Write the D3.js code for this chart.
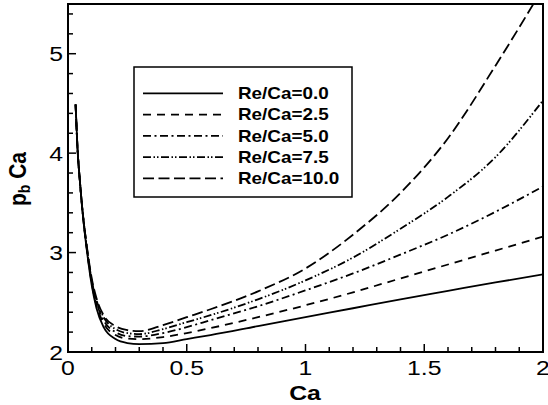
<!DOCTYPE html>
<html><head><meta charset="utf-8">
<script src="https://cdn.jsdelivr.net/npm/d3@7"></script>
<style>body{margin:0;background:#fff}svg{display:block}text{font-family:"Liberation Sans",Arial,sans-serif;fill:#000}</style>
</head><body><svg id="c" width="548" height="405"></svg>
<script>
const caValues = [0.032,0.04,0.05,0.06,0.08,0.1,0.12,0.15,0.2,0.25,0.3,0.4,0.5,0.6,0.8,1.0,1.2,1.4,1.6,1.8,2.0];
const seriesNames = ["Re/Ca=0.0","Re/Ca=2.5","Re/Ca=5.0","Re/Ca=7.5","Re/Ca=10.0"];
const re00 = [4.49,4.05,3.72,3.44,3.01,2.67,2.44,2.25,2.13,2.09,2.08,2.09,2.13,2.17,2.26,2.35,2.44,2.53,2.615,2.70,2.78];
const re25 = [4.49,4.05,3.72,3.44,3.02,2.69,2.47,2.29,2.17,2.135,2.13,2.15,2.19,2.24,2.35,2.47,2.60,2.74,2.88,3.02,3.16];
const re50 = [4.49,4.05,3.72,3.45,3.03,2.71,2.50,2.32,2.20,2.16,2.155,2.19,2.25,2.32,2.46,2.62,2.79,2.98,3.18,3.41,3.665];
const re75 = [4.49,4.05,3.72,3.45,3.04,2.72,2.52,2.35,2.23,2.19,2.18,2.23,2.30,2.37,2.53,2.72,2.95,3.24,3.56,3.96,4.53];
const re100 = [4.49,4.05,3.72,3.45,3.05,2.74,2.54,2.37,2.26,2.22,2.21,2.27,2.35,2.43,2.61,2.84,3.18,3.60,4.15,4.88,5.66];
const xTickLabels = ["0","0.5","1","1.5","2"];
const yTickLabels = ["2","3","4","5"];

const allSeries = [re00,re25,re50,re75,re100];
const dashes = [null,"8,6","8,3.5,2,3.5","8,2.5,1.5,2,1.5,2.5","11,4.5"];

const svg = d3.select("#c");
const L=68, R=543, T=4, B=352;
const x = d3.scaleLinear().domain([0,2]).range([L,R]);
const y = d3.scaleLinear().domain([2,5.5]).range([B,T]);

svg.append("clipPath").attr("id","clip").append("rect")
  .attr("x",L).attr("y",T).attr("width",R-L).attr("height",B-T);

const line = d3.line().x((d,i)=>x(caValues[i])).y(d=>y(d)).curve(d3.curveMonotoneX);
const g = svg.append("g").attr("clip-path","url(#clip)");
allSeries.forEach((s,k)=>{
  g.append("path").attr("d",line(s)).attr("fill","none").attr("stroke","#000")
   .attr("stroke-width",1.8).attr("stroke-dasharray",dashes[k]);
});

// ticks (inward, left and bottom only)
const xMinor = d3.range(0,2.0001,0.1);
svg.append("g").selectAll("line").data(xMinor).join("line")
  .attr("x1",d=>x(d)).attr("x2",d=>x(d)).attr("y1",B)
  .attr("y2",(d,i)=> i%5===0 ? B-8 : B-5).attr("stroke","#000").attr("stroke-width",1.5);
const yMinor = d3.range(2,5.5001,0.2);
svg.append("g").selectAll("line").data(yMinor).join("line")
  .attr("y1",d=>y(d)).attr("y2",d=>y(d)).attr("x1",L)
  .attr("x2",(d,i)=> i%5===0 ? L+8 : L+5).attr("stroke","#000").attr("stroke-width",1.5);

// frame
svg.append("rect").attr("x",L).attr("y",T).attr("width",R-L).attr("height",B-T)
  .attr("fill","none").attr("stroke","#000").attr("stroke-width",2);

// tick labels
svg.append("g").selectAll("text").data(xTickLabels).join("text")
  .attr("transform",d=>`translate(${x(+d)},375) scale(1.18,1)`)
  .attr("text-anchor","middle").attr("font-size",21).text(d=>d);
svg.append("g").selectAll("text").data(yTickLabels).join("text")
  .attr("transform",d=>`translate(63,${y(+d)+7.5}) scale(1.18,1)`)
  .attr("text-anchor","end").attr("font-size",21).text(d=>d);

// axis titles
svg.append("text").attr("transform","translate(305,400) scale(1.18,1)")
  .attr("text-anchor","middle").attr("font-size",21).attr("font-weight","bold").text("Ca");
const yt = svg.append("text").attr("transform","translate(26,179) rotate(-90) scale(1,1.12)")
  .attr("text-anchor","middle").attr("font-size",21).attr("font-weight","bold");
yt.append("tspan").text("p");
yt.append("tspan").attr("font-size",14).attr("dy",4).text("b");
yt.append("tspan").attr("dy",-4).text(" Ca");

// legend
const lg = svg.append("g");
lg.append("rect").attr("x",134).attr("y",67).attr("width",218).attr("height",130)
  .attr("fill","#fff").attr("stroke","#000").attr("stroke-width",1.5);
seriesNames.forEach((n,k)=>{
  const ly = 93.3 + k*21.25;
  lg.append("line").attr("x1",143).attr("x2",223).attr("y1",ly).attr("y2",ly)
    .attr("stroke","#000").attr("stroke-width",1.8).attr("stroke-dasharray",dashes[k]);
  lg.append("text").attr("transform",`translate(238,${ly+5.8}) scale(1.18,1)`)
    .attr("font-size",16).attr("font-weight","bold").text(n);
});
</script></body></html>
